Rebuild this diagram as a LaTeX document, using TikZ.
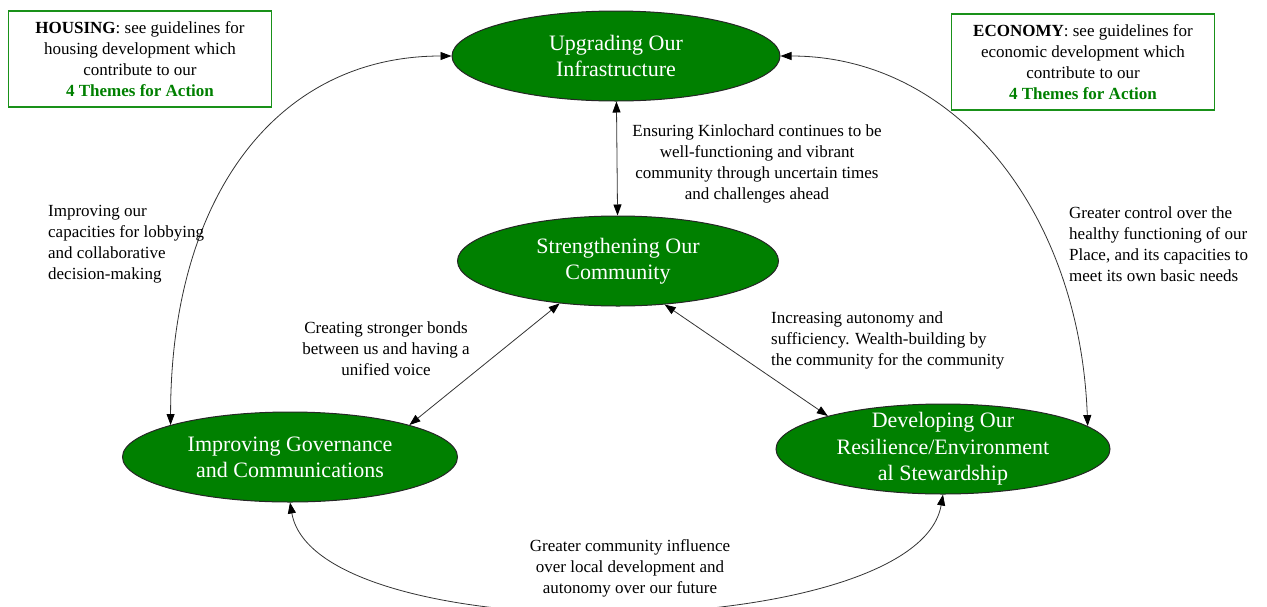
\documentclass[tikz,border=0pt]{standalone}
\usepackage{fontspec}
\setmainfont{Liberation Serif}
\usetikzlibrary{shapes.geometric,arrows.meta}
\definecolor{themegreen}{RGB}{0,128,0}
\definecolor{boxgreen}{RGB}{25,145,25}
\tikzset{
  theme/.style={ellipse,draw=black!85,line width=1pt,fill=themegreen,text=white,
    minimum height=90pt,inner sep=-10pt,align=center,
    font=\fontsize{22}{26}\selectfont},
  guide/.style={draw=boxgreen,line width=1.5pt,minimum width=263pt,minimum height=96pt,
    align=center,inner sep=0pt,font=\fontsize{17}{21}\selectfont},
  note/.style={align=center,inner sep=0pt,font=\fontsize{17}{21}\selectfont},
  link/.style={<->,>={Triangle[length=11pt,width=8pt,black]},line width=0.8pt,draw=black!80}
}
\begin{document}
\begin{tikzpicture}[x=1pt,y=-1pt]
    \useasboundingbox (0,0) rectangle (1267,606);
    \clip (0,0) rectangle (1267,606);

    % themes
    \node[theme,minimum width=328pt] (upgrading) at (616,56) {Upgrading Our\\Infrastructure};
    \node[theme,minimum width=321pt] (strengthening) at (618,261) {Strengthening Our\\Community};
    \node[theme,minimum width=335pt] (improving) at (290,457) {Improving Governance\\and Communications};
    \node[theme,minimum width=334pt,font=\fontsize{22}{26.5}\selectfont] (developing) at (943,449)
      {Developing Our\\Resilience/Environment\\al Stewardship};

    % guidelines
    \node[guide] (housing) at (140,59) {\textbf{HOUSING}: see guidelines for\\housing development which\\contribute to our\\\textcolor{themegreen}{\textbf{4 Themes for Action}}};
    \node[guide] (economy) at (1083,62) {\textbf{ECONOMY}: see guidelines for\\economic development which\\contribute to our\\\textcolor{themegreen}{\textbf{4 Themes for Action}}};

    % liens
    \draw[link] (upgrading) -- (strengthening);
    \draw[link] (strengthening.216) -- (improving.15);
    \draw[link] (strengthening.317) -- (developing.164);
    \draw[link] (improving.165) .. controls +(0,-228) and +(-175,0) .. (upgrading.west);
    \draw[link] (upgrading.east) .. controls +(175,0) and +(-8,-215) .. (developing.9);
    \draw[link] (improving.south) .. controls +(26,150) and +(-26,150) .. (developing.south);

    % textes
    \node[note] (ensuring) at (757,164) {Ensuring Kinlochard continues to be\\well-functioning and vibrant\\community through uncertain times\\and challenges ahead};
    \node[note,align=left,anchor=west] (lobbying) at (48,244) {Improving our\\capacities for lobbying\\and collaborative\\decision-making};
    \node[note,align=left,anchor=west] (control) at (1069,244) {Greater control over the\\healthy functioning of our\\Place, and its capacities to\\meet its own basic needs};
    \node[note] (bonds) at (386,349) {Creating stronger bonds\\between us and having a\\unified voice};
    \node[note,align=left,anchor=west] (autonomy) at (771,340) {Increasing autonomy and\\sufficiency. Wealth-building by\\the community for the community};
    \node[note] (influence) at (630,568) {Greater community influence\\over local development and\\autonomy over our future};

  \end{tikzpicture}
\end{document}
